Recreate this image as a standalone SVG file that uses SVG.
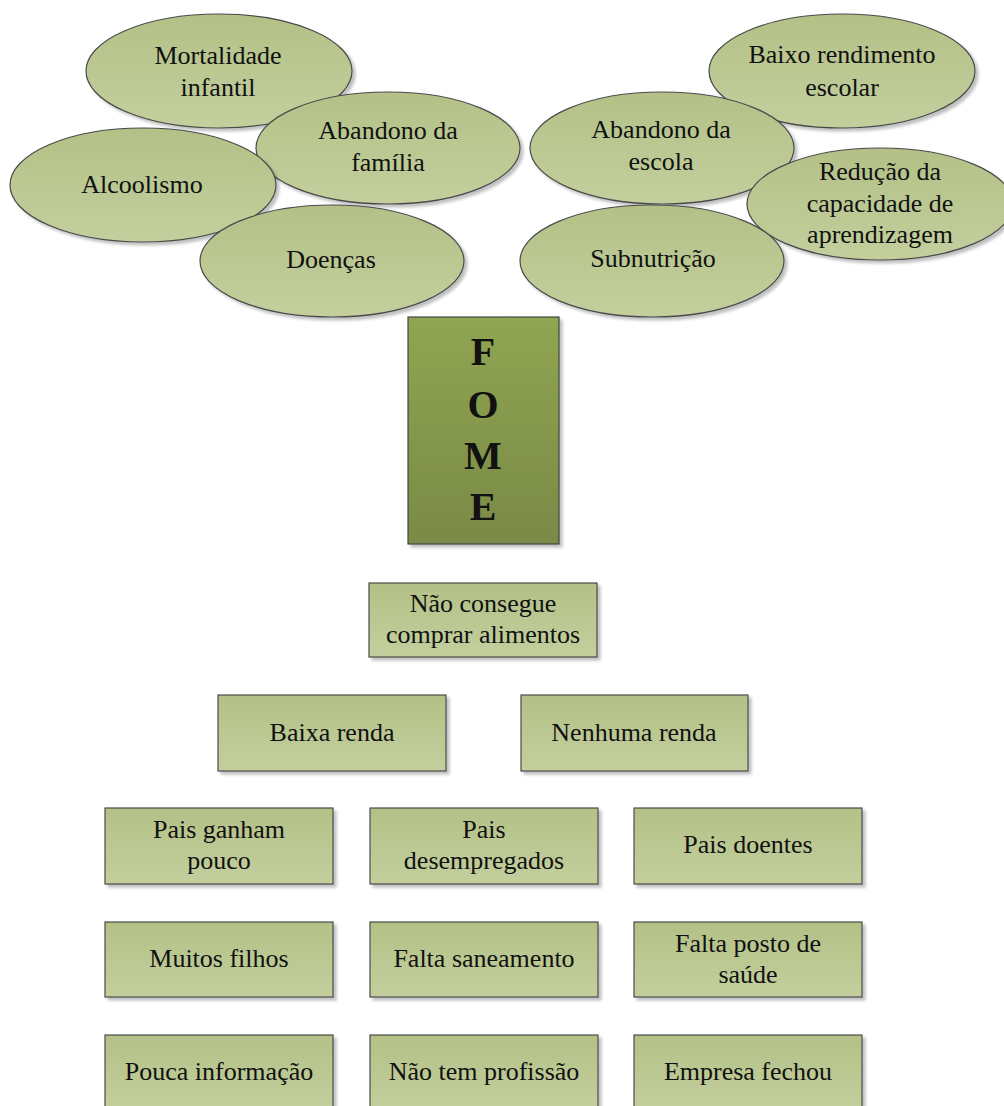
<svg xmlns="http://www.w3.org/2000/svg" width="1004" height="1106" viewBox="0 0 1004 1106">
<defs>
<linearGradient id="gl" x1="0" y1="0" x2="0" y2="1">
<stop offset="0" stop-color="#b3c187"/>
<stop offset="1" stop-color="#c3cf9d"/>
</linearGradient>
<linearGradient id="gd" x1="0" y1="0" x2="0" y2="1">
<stop offset="0" stop-color="#90a552"/>
<stop offset="1" stop-color="#7a8a46"/>
</linearGradient>
<filter id="sh" x="-10%" y="-10%" width="125%" height="130%">
<feGaussianBlur in="SourceAlpha" stdDeviation="1.5"/>
<feOffset dx="3" dy="3" result="b"/>
<feComponentTransfer><feFuncA type="linear" slope="0.25"/></feComponentTransfer>
<feMerge><feMergeNode/><feMergeNode in="SourceGraphic"/></feMerge>
</filter>
</defs>
<style>
.e{fill:url(#gl);stroke:#4a4a4a;stroke-width:1.2;filter:url(#sh)}
.b{fill:url(#gl);stroke:#4a4a4a;stroke-width:1.2;filter:url(#sh)}
.f{fill:url(#gd);stroke:#444;stroke-width:1.2;filter:url(#sh)}
text{font-family:"Liberation Serif","Times New Roman",serif;fill:#111;text-anchor:middle}
.t{font-size:26px}
.s{font-size:26px}
.big{font-size:40px;font-weight:bold}
</style>
<g id="connectors"></g>
<g id="n-mortalidade"><ellipse class="e" cx="219" cy="71" rx="133" ry="57"/><text class="t" x="218" y="64">Mortalidade</text><text class="t" x="218" y="96">infantil</text></g>
<g id="n-abandono-familia"><ellipse class="e" cx="388" cy="148" rx="132" ry="56"/><text class="t" x="388" y="139">Abandono da</text><text class="t" x="388" y="171">família</text></g>
<g id="n-alcoolismo"><ellipse class="e" cx="143" cy="185" rx="133" ry="57"/><text class="t" x="142" y="193">Alcoolismo</text></g>
<g id="n-doencas"><ellipse class="e" cx="332" cy="261" rx="132" ry="56"/><text class="t" x="331" y="268">Doenças</text></g>
<g id="n-baixo-rendimento"><ellipse class="e" cx="842" cy="71" rx="133" ry="57"/><text class="t" x="842" y="63">Baixo rendimento</text><text class="t" x="842" y="96">escolar</text></g>
<g id="n-abandono-escola"><ellipse class="e" cx="662" cy="148" rx="132" ry="56"/><text class="t" x="661" y="138">Abandono da</text><text class="t" x="661" y="170">escola</text></g>
<g id="n-reducao"><ellipse class="e" cx="880" cy="204" rx="133" ry="56"/><text class="t" x="880" y="180">Redução da</text><text class="t" x="880" y="212">capacidade de</text><text class="t" x="880" y="243">aprendizagem</text></g>
<g id="n-subnutricao"><ellipse class="e" cx="652" cy="261" rx="132" ry="56"/><text class="t" x="653" y="267">Subnutrição</text></g>
<g id="n-fome"><rect class="f" x="408" y="317" width="151" height="227"/><text class="big" x="483" y="365">F</text><text class="big" x="483" y="418">O</text><text class="big" x="483" y="469">M</text><text class="big" x="483" y="520">E</text></g>
<g id="n-nao-consegue"><rect class="b" x="369" y="583" width="228" height="74"/><text class="s" x="483" y="612">Não consegue</text><text class="s" x="483" y="643">comprar alimentos</text></g>
<g id="n-baixa-renda"><rect class="b" x="218" y="695" width="228" height="76"/><text class="s" x="332" y="741">Baixa renda</text></g>
<g id="n-nenhuma-renda"><rect class="b" x="521" y="695" width="227" height="76"/><text class="s" x="634" y="741">Nenhuma renda</text></g>
<g id="n-pais-ganham"><rect class="b" x="105" y="808" width="228" height="76"/><text class="s" x="219" y="838">Pais ganham</text><text class="s" x="219" y="869">pouco</text></g>
<g id="n-pais-desempregados"><rect class="b" x="370" y="808" width="228" height="76"/><text class="s" x="484" y="838">Pais</text><text class="s" x="484" y="869">desempregados</text></g>
<g id="n-pais-doentes"><rect class="b" x="634" y="808" width="228" height="76"/><text class="s" x="748" y="853">Pais doentes</text></g>
<g id="n-muitos-filhos"><rect class="b" x="105" y="922" width="228" height="75"/><text class="s" x="219" y="967">Muitos filhos</text></g>
<g id="n-falta-saneamento"><rect class="b" x="370" y="922" width="228" height="75"/><text class="s" x="484" y="967">Falta saneamento</text></g>
<g id="n-falta-posto"><rect class="b" x="634" y="922" width="228" height="75"/><text class="s" x="748" y="952">Falta posto de</text><text class="s" x="748" y="983">saúde</text></g>
<g id="n-pouca-informacao"><rect class="b" x="105" y="1035" width="228" height="76"/><text class="s" x="219" y="1080">Pouca informação</text></g>
<g id="n-nao-tem-profissao"><rect class="b" x="370" y="1035" width="228" height="76"/><text class="s" x="484" y="1080">Não tem profissão</text></g>
<g id="n-empresa-fechou"><rect class="b" x="634" y="1035" width="228" height="76"/><text class="s" x="748" y="1080">Empresa fechou</text></g>
</svg>
